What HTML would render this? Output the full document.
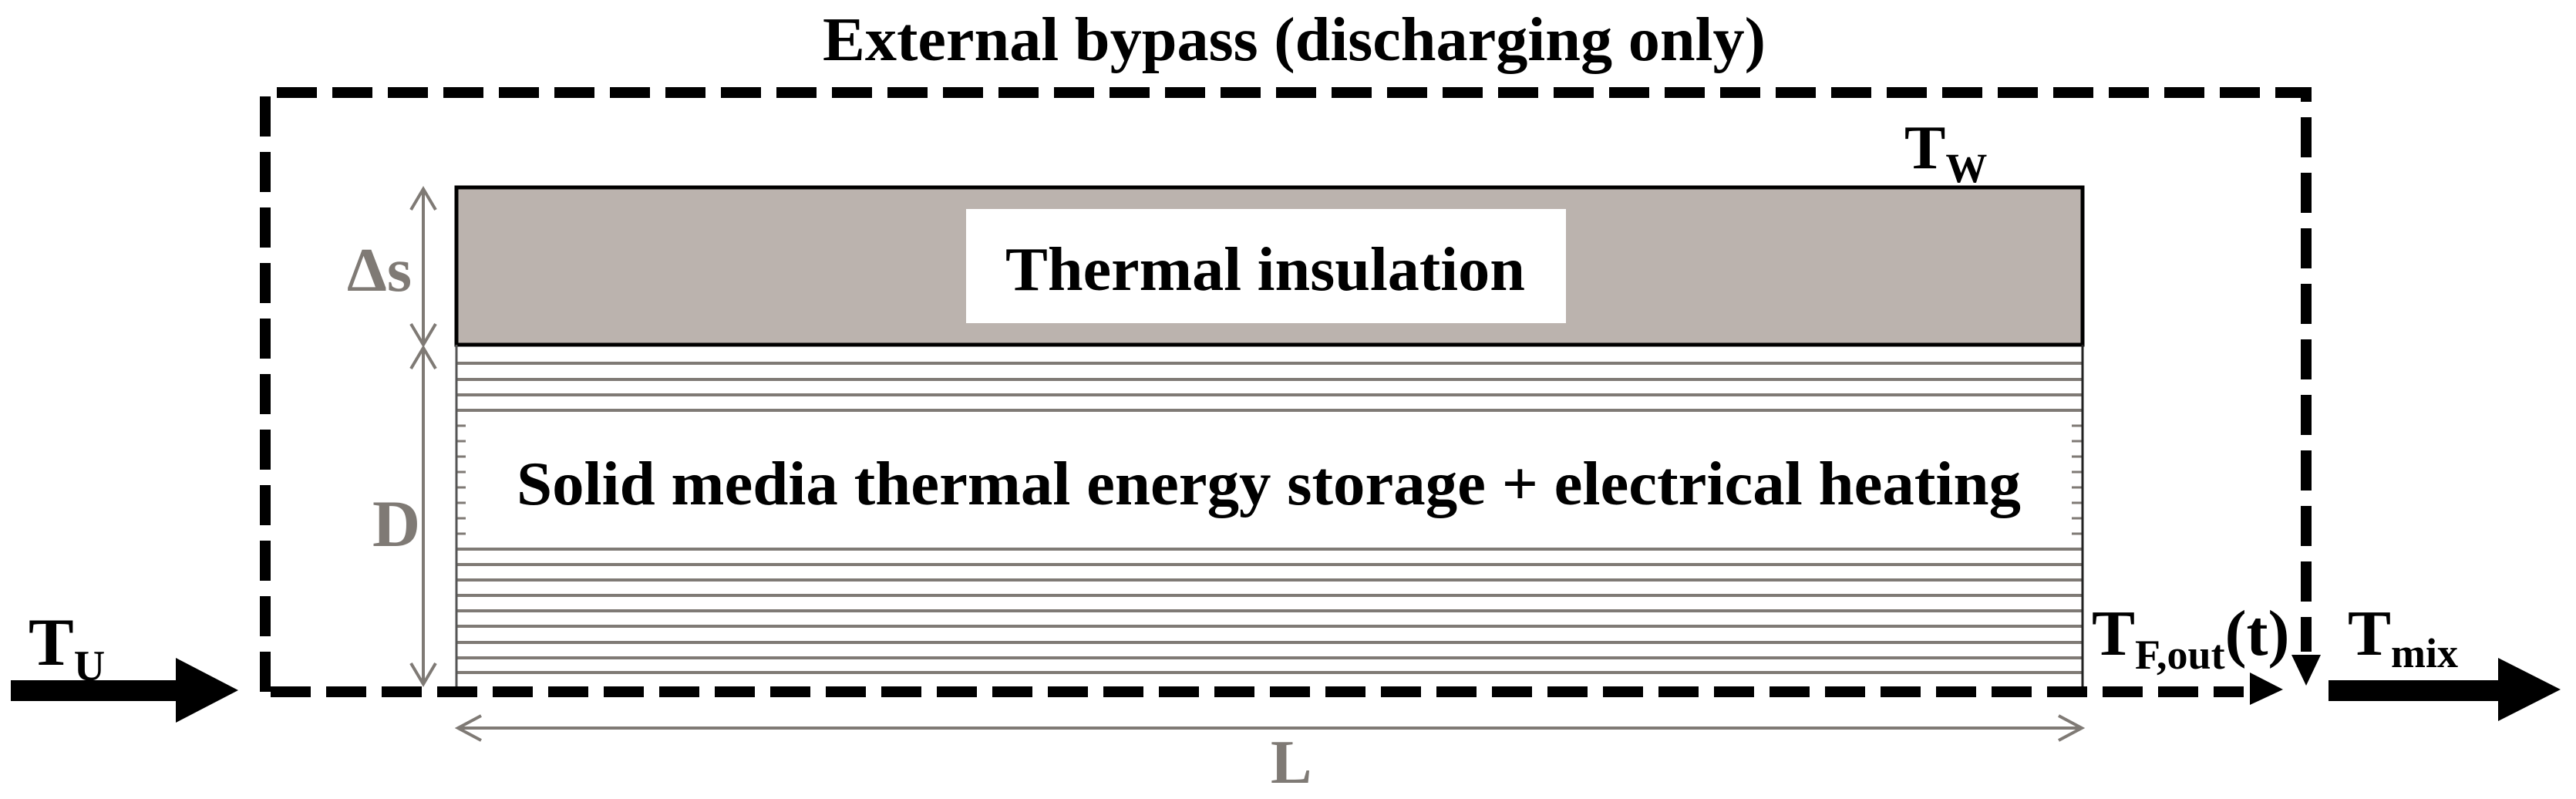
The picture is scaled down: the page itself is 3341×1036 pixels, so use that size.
<!DOCTYPE html>
<html><head><meta charset="utf-8"><style>html,body{margin:0;padding:0;background:#fff}svg{display:block}</style></head>
<body>
<svg width="3341" height="1036" viewBox="0 0 3341 1036" xmlns="http://www.w3.org/2000/svg" font-family="Liberation Serif, serif" font-weight="bold">
<rect width="3341" height="1036" fill="#fff"/>
<text x="1067" y="78" font-size="80" textLength="1223" lengthAdjust="spacingAndGlyphs">External bypass (discharging only)</text>
<rect x="592" y="243" width="2109" height="204" fill="#bbb3ae" stroke="#000" stroke-width="5"/>
<rect x="1253" y="271" width="778" height="148" fill="#fff"/>
<text x="1304" y="376" font-size="80" textLength="674" lengthAdjust="spacingAndGlyphs">Thermal insulation</text>
<g stroke="#7f7a75" stroke-width="4">
<line x1="592" y1="471" x2="2701" y2="471"/><line x1="592" y1="492" x2="2701" y2="492"/>
<line x1="592" y1="512" x2="2701" y2="512"/><line x1="592" y1="532" x2="2701" y2="532"/>
<line x1="592" y1="712" x2="2701" y2="712"/><line x1="592" y1="732" x2="2701" y2="732"/>
<line x1="592" y1="752" x2="2701" y2="752"/><line x1="592" y1="772" x2="2701" y2="772"/>
<line x1="592" y1="792" x2="2701" y2="792"/><line x1="592" y1="812" x2="2701" y2="812"/>
<line x1="592" y1="833" x2="2701" y2="833"/><line x1="592" y1="853" x2="2701" y2="853"/>
<line x1="592" y1="872" x2="2701" y2="872"/>
</g>
<g stroke="#7f7a75" stroke-width="3">
<line x1="592" y1="552" x2="604" y2="552"/><line x1="592" y1="572" x2="604" y2="572"/><line x1="592" y1="592" x2="604" y2="592"/><line x1="592" y1="612" x2="604" y2="612"/><line x1="592" y1="632" x2="604" y2="632"/><line x1="592" y1="652" x2="604" y2="652"/><line x1="592" y1="672" x2="604" y2="672"/><line x1="592" y1="692" x2="604" y2="692"/>
<line x1="2687" y1="552" x2="2701" y2="552"/><line x1="2687" y1="572" x2="2701" y2="572"/><line x1="2687" y1="592" x2="2701" y2="592"/><line x1="2687" y1="612" x2="2701" y2="612"/><line x1="2687" y1="632" x2="2701" y2="632"/><line x1="2687" y1="652" x2="2701" y2="652"/><line x1="2687" y1="672" x2="2701" y2="672"/><line x1="2687" y1="692" x2="2701" y2="692"/>
</g>
<line x1="592" y1="447" x2="592" y2="895" stroke="#555" stroke-width="3"/>
<line x1="2701" y1="447" x2="2701" y2="895" stroke="#222" stroke-width="3"/>
<text x="670" y="654" font-size="80" textLength="1951" lengthAdjust="spacingAndGlyphs">Solid media thermal energy storage + electrical heating</text>
<g stroke="#7f7a75" stroke-width="4" fill="none">
<line x1="549" y1="245" x2="549" y2="447"/>
<polyline points="533,272 549,245 565,272"/><polyline points="533,420 549,447 565,420"/>
<line x1="549" y1="451" x2="549" y2="887"/>
<polyline points="533,478 549,451 565,478"/><polyline points="533,860 549,887 565,860"/>
<line x1="594" y1="944" x2="2700" y2="944"/>
<polyline points="624,928 594,944 624,960"/><polyline points="2670,928 2700,944 2670,960"/>
</g>
<g fill="#7f7a75">
<text x="450" y="377" font-size="80" textLength="84" lengthAdjust="spacingAndGlyphs">Δs</text>
<text x="483" y="708" font-size="86">D</text>
<text x="1648" y="1015" font-size="80">L</text>
</g>
<g stroke="#000" stroke-width="14" fill="none" stroke-dasharray="52 20">
<polyline points="344,897 344,120 2991,120 2991,845"/>
<line x1="351" y1="897" x2="2910" y2="897"/>
</g>
<polygon points="2918,872 2961,894 2918,914" fill="#000"/>
<polygon points="2972,849 3010,849 2991,889" fill="#000"/>
<rect x="14" y="882" width="216" height="27" fill="#000"/>
<polygon points="228,853 309,895 228,937" fill="#000"/>
<rect x="3020" y="882" width="222" height="27" fill="#000"/>
<polygon points="3240,853 3321,894 3240,935" fill="#000"/>
<text x="37" y="862" font-size="88">T<tspan font-size="56" dy="20">U</tspan></text>
<text x="2470" y="218" font-size="80">T<tspan font-size="54" dy="18">W</tspan></text>
<text x="2713" y="849" font-size="84">T<tspan font-size="54" dy="18">F,out</tspan><tspan dy="-18">(t)</tspan></text>
<text x="3045" y="849" font-size="84">T<tspan font-size="54" dy="16">mix</tspan></text>
</svg>
</body></html>
